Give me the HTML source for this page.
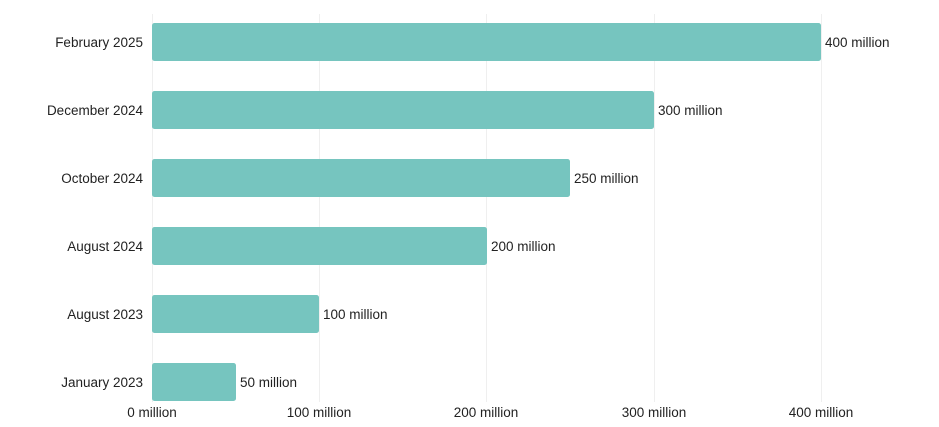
<!DOCTYPE html>
<html><head><style>
html,body{margin:0;padding:0;background:#fff;}
svg text{font-family:"Liberation Sans",sans-serif;font-size:13.5px;fill:#222;}
</style></head><body>
<svg width="939" height="422" xmlns="http://www.w3.org/2000/svg">
<g stroke="#efefef" stroke-width="1">
<line x1="152.5" y1="14" x2="152.5" y2="402"/>
<line x1="319.5" y1="14" x2="319.5" y2="402"/>
<line x1="486.5" y1="14" x2="486.5" y2="402"/>
<line x1="654.5" y1="14" x2="654.5" y2="402"/>
<line x1="821.5" y1="14" x2="821.5" y2="402"/>
</g>
<g fill="#76c5bf">
<rect x="152" y="23" width="669" height="38" rx="2.5"/>
<rect x="152" y="91" width="502" height="38" rx="2.5"/>
<rect x="152" y="159" width="418" height="38" rx="2.5"/>
<rect x="152" y="227" width="335" height="38" rx="2.5"/>
<rect x="152" y="295" width="167" height="38" rx="2.5"/>
<rect x="152" y="363" width="84" height="38" rx="2.5"/>
</g>
<g text-anchor="end">
<text x="143" y="47">February 2025</text>
<text x="143" y="115">December 2024</text>
<text x="143" y="183">October 2024</text>
<text x="143" y="251">August 2024</text>
<text x="143" y="319">August 2023</text>
<text x="143" y="387">January 2023</text>
</g>
<g>
<text x="825" y="47">400 million</text>
<text x="658" y="115">300 million</text>
<text x="574" y="183">250 million</text>
<text x="491" y="251">200 million</text>
<text x="323" y="319">100 million</text>
<text x="240" y="387">50 million</text>
</g>
<g text-anchor="middle">
<text x="152" y="417">0 million</text>
<text x="319" y="417">100 million</text>
<text x="486" y="417">200 million</text>
<text x="654" y="417">300 million</text>
<text x="821" y="417">400 million</text>
</g>
</svg>
</body></html>
